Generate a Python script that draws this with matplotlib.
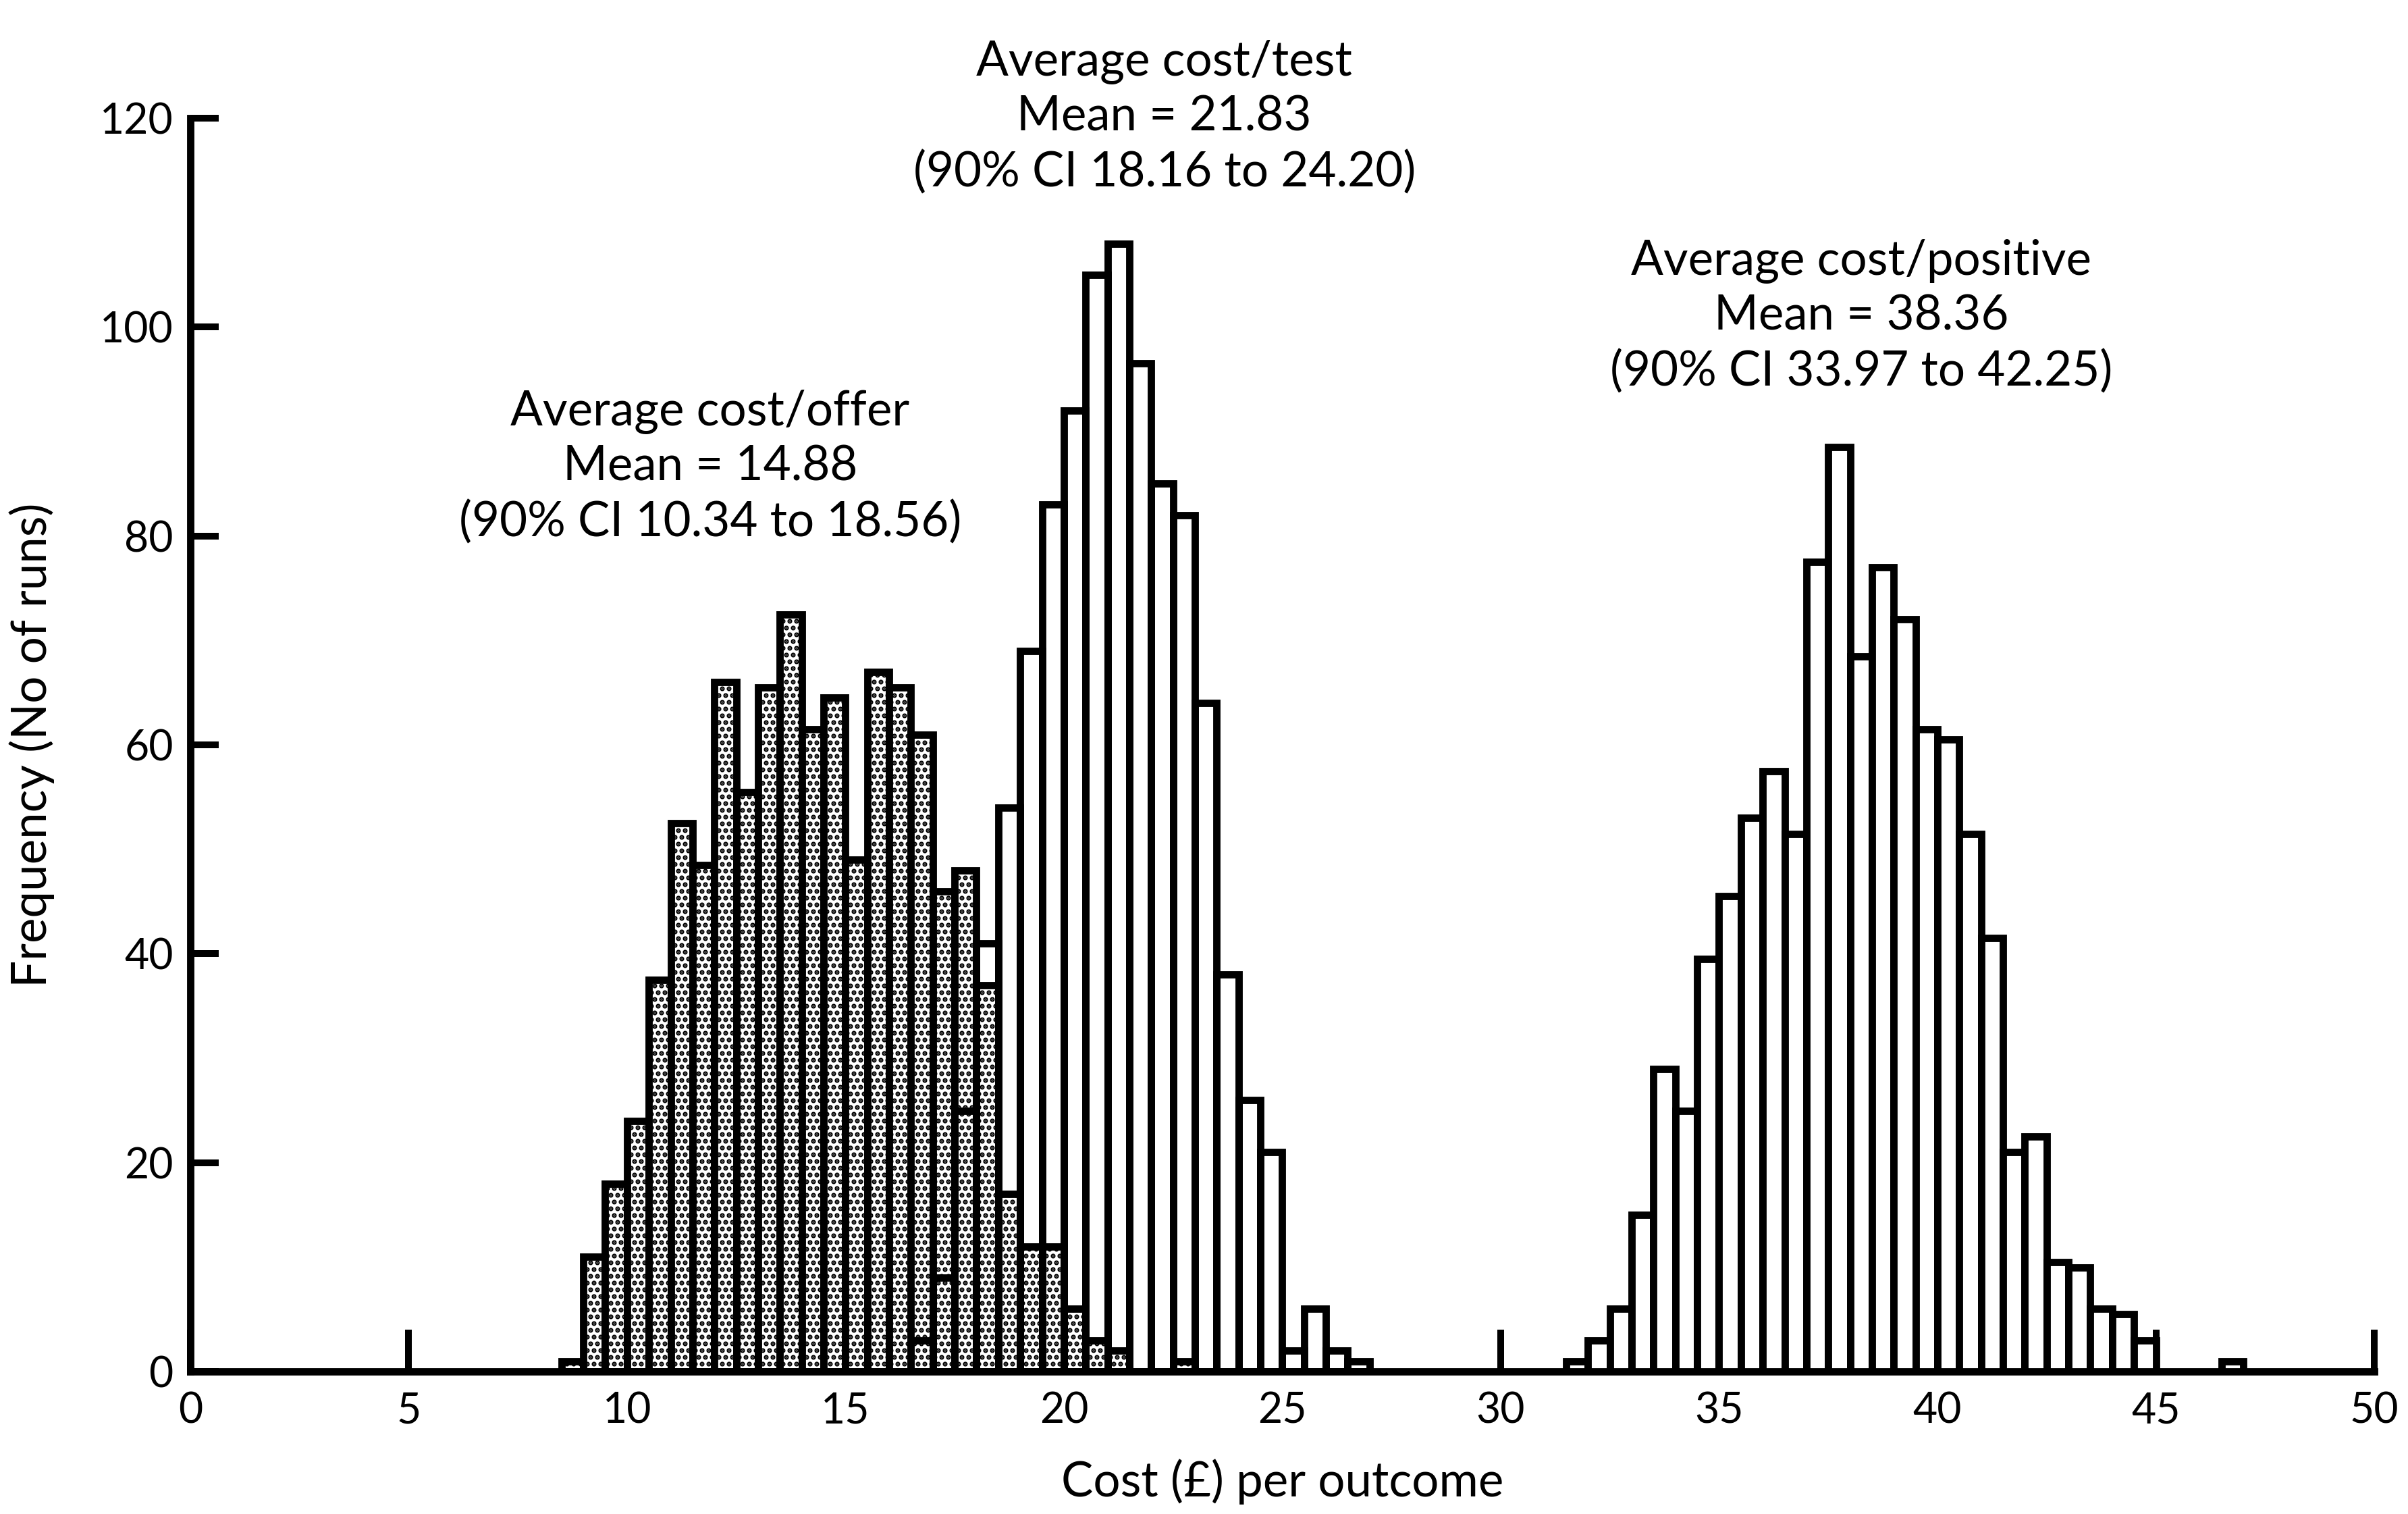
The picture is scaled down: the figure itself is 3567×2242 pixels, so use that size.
import matplotlib
matplotlib.use('Agg')
import matplotlib.pyplot as plt

plt.rcParams['font.family'] = ['Lato', 'DejaVu Sans']
plt.rcParams['hatch.linewidth'] = 1.2

# left edge of each 0.5 wide bin, and number of runs in it
offer_bins = [8.5, 9.0, 9.5, 10.0, 10.5, 11.0, 11.5, 12.0, 12.5, 13.0, 13.5, 14.0, 14.5,
              15.0, 15.5, 16.0, 16.5, 17.0, 17.5, 18.0, 18.5, 19.0, 19.5, 20.0, 20.5,
              21.0, 22.5]
offer_counts = [1, 11, 18, 24, 37.5, 52.5, 48.5, 66, 55.5, 65.5, 72.5, 61.5, 64.5,
                49, 67, 65.5, 61, 46, 48, 37, 17, 12, 12, 6, 3,
                2, 1]

test_bins = [16.5, 17.0, 17.5, 18.0, 18.5, 19.0, 19.5, 20.0, 20.5, 21.0, 21.5, 22.0,
             22.5, 23.0, 23.5, 24.0, 24.5, 25.0, 25.5, 26.0, 26.5]
test_counts = [3, 9, 25, 41, 54, 69, 83, 92, 105, 108, 96.5, 85,
               82, 64, 38, 26, 21, 2, 6, 2, 1]

positive_bins = [31.5, 32.0, 32.5, 33.0, 33.5, 34.0, 34.5, 35.0, 35.5, 36.0, 36.5, 37.0,
                 37.5, 38.0, 38.5, 39.0, 39.5, 40.0, 40.5, 41.0, 41.5, 42.0, 42.5, 43.0,
                 43.5, 44.0, 44.5, 46.5]
positive_counts = [1, 3, 6, 15, 29, 25, 39.5, 45.5, 53, 57.5, 51.5, 77.5,
                   88.5, 68.5, 77, 72, 61.5, 60.5, 51.5, 41.5, 21, 22.5, 10.5, 10,
                   6, 5.5, 3, 1]

x_ticks = [0, 5, 10, 15, 20, 25, 30, 35, 40, 45, 50]
y_ticks = [0, 20, 40, 60, 80, 100, 120]

labels = [
    (11.9, 86.6, 'Average cost/offer\nMean = 14.88\n(90% CI 10.34 to 18.56)'),
    (22.3, 120.1, 'Average cost/test\nMean = 21.83\n(90% CI 18.16 to 24.20)'),
    (38.25, 101.0, 'Average cost/positive\nMean = 38.36\n(90% CI 33.97 to 42.25)'),
]

fig = plt.figure(figsize=(3567 / 300, 2242 / 300), dpi=300)
ax = fig.add_axes([0.079, 0.094, 0.907, 0.828])

lw = 2.6
ax.bar(offer_bins, offer_counts, width=0.5, align='edge', facecolor='white',
       edgecolor='black', hatch='.....', linewidth=lw, zorder=2)
ax.bar(test_bins, test_counts, width=0.5, align='edge', facecolor='none',
       edgecolor='black', linewidth=lw, zorder=3)
ax.bar(positive_bins, positive_counts, width=0.5, align='edge', facecolor='white',
       edgecolor='black', linewidth=lw, zorder=3)

ax.set_xlim(0, 50)
ax.set_ylim(0, 120)
ax.set_xticks(x_ticks)
ax.set_yticks(y_ticks)
ax.set_axisbelow(True)
for side in ['top', 'right']:
    ax.spines[side].set_visible(False)
for side in ['left', 'bottom']:
    ax.spines[side].set_linewidth(2.6)
ax.tick_params(axis='x', direction='in', length=15, width=2.4, pad=7, labelsize=15)
ax.tick_params(axis='y', direction='in', length=10, width=2.4, pad=6, labelsize=15)

ax.set_xlabel('Cost (£) per outcome', fontsize=17, labelpad=10)
ax.set_ylabel('Frequency (No of runs)', fontsize=17, labelpad=16)

for x, y, txt in labels:
    ax.text(x, y, txt, ha='center', va='center', fontsize=17, linespacing=1.3)

plt.savefig('out.png', dpi=300)
